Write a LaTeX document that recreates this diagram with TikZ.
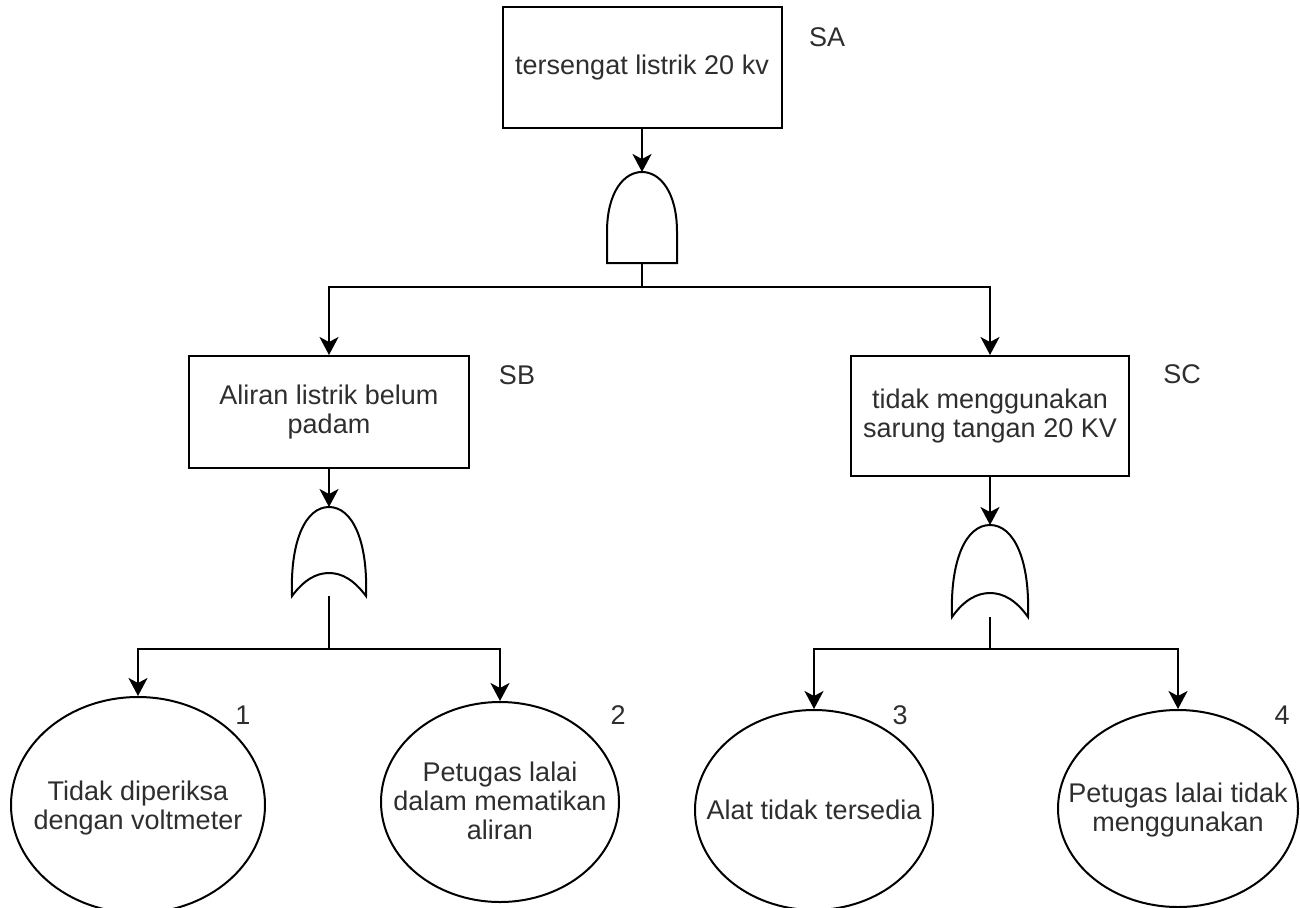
\documentclass[tikz,border=0pt]{standalone}
\usepackage{fontspec}
\setmainfont{Liberation Sans}
\usetikzlibrary{shapes.geometric,arrows.meta}
\begin{document}
\begin{tikzpicture}[x=1pt,y=-1pt,
  line width=2pt,
  every node/.style={font=\fontsize{27}{29}\selectfont, text=black!82},
  box/.style={draw, rectangle, inner sep=0pt, align=center},
  evt/.style={draw, ellipse, inner sep=0pt},
  txt/.style={align=center, inner sep=0pt},
  arr/.style={-{Stealth[length=18pt,width=19pt,inset=5pt]}},
  gate/.style={draw, fill=white}]
\useasboundingbox (0,0) rectangle (1300,907);

% top event
\node[box, minimum width=279pt, minimum height=121pt] (SA) at (642,67.5) {tersengat listrik 20 kv};
\node (lSA) at (827,37) {SA};

% AND gate
\draw[gate] (607,263) -- (607,232) .. controls (607,192) and (624,172) .. (642,172)
  .. controls (660,172) and (677,192) .. (677,232) -- (677,263) -- cycle;
\coordinate (g1in) at (642,172);
\coordinate (g1out) at (642,263);
\coordinate (j1) at (642,287);

% intermediate events
\node[box, minimum width=280pt, minimum height=112pt] (SB) at (329,412) {Aliran listrik belum\\padam};
\node (lSB) at (517,375) {SB};
\node[box, minimum width=278pt, minimum height=120pt] (SC) at (990,416) {tidak menggunakan\\sarung tangan 20 KV};
\node (lSC) at (1182,374) {SC};

% OR gate under SB
\draw[gate] (292,596) .. controls (290,540) and (306,507) .. (329,507)
  .. controls (352,507) and (368,540) .. (366,596)
  .. controls (354,580) and (342,573) .. (329,573)
  .. controls (316,573) and (304,580) .. (292,596) -- cycle;
\coordinate (g2in) at (329,507);
\coordinate (g2out) at (329,596);
\coordinate (j2) at (329,649);

% OR gate under SC
\draw[gate] (952,617) .. controls (950,560) and (966,525) .. (990,525)
  .. controls (1014,525) and (1030,560) .. (1028,617)
  .. controls (1016,600) and (1003,593) .. (990,593)
  .. controls (977,593) and (964,600) .. (952,617) -- cycle;
\coordinate (g3in) at (990,525);
\coordinate (g3out) at (990,617);
\coordinate (j3) at (990,649);

% basic events
\node[evt, minimum width=254pt, minimum height=216pt] (e1) at (138,805) {};
\node[txt] (t1) at (138,808) {Tidak diperiksa\\dengan voltmeter};
\node (l1) at (243,715) {1};
\node[evt, minimum width=238pt, minimum height=200pt] (e2) at (500,802) {};
\node[txt] (t2) at (500,801) {Petugas lalai\\dalam mematikan\\aliran};
\node (l2) at (618,715) {2};
\node[evt, minimum width=238pt, minimum height=200pt] (e3) at (814,810) {};
\node[txt] (t3) at (814,810) {Alat tidak tersedia};
\node (l3) at (900,715) {3};
\node[evt, minimum width=240pt, minimum height=197pt] (e4) at (1178,808.5) {};
\node[txt] (t4) at (1178,810) {Petugas lalai tidak\\menggunakan};
\node (l4) at (1282,715) {4};

% connectors
\draw[arr] (SA.south) -- (g1in);
\draw (g1out) -- (j1);
\draw[arr] (j1) -| (SB.north);
\draw[arr] (j1) -| (SC.north);

\draw[arr] (SB.south) -- (g2in);
\draw (g2out) -- (j2);
\draw[arr] (j2) -| (e1.north);
\draw[arr] (j2) -| (e2.north);

\draw[arr] (SC.south) -- (g3in);
\draw (g3out) -- (j3);
\draw[arr] (j3) -| (e3.north);
\draw[arr] (j3) -| (e4.north);
\end{tikzpicture}
\end{document}
